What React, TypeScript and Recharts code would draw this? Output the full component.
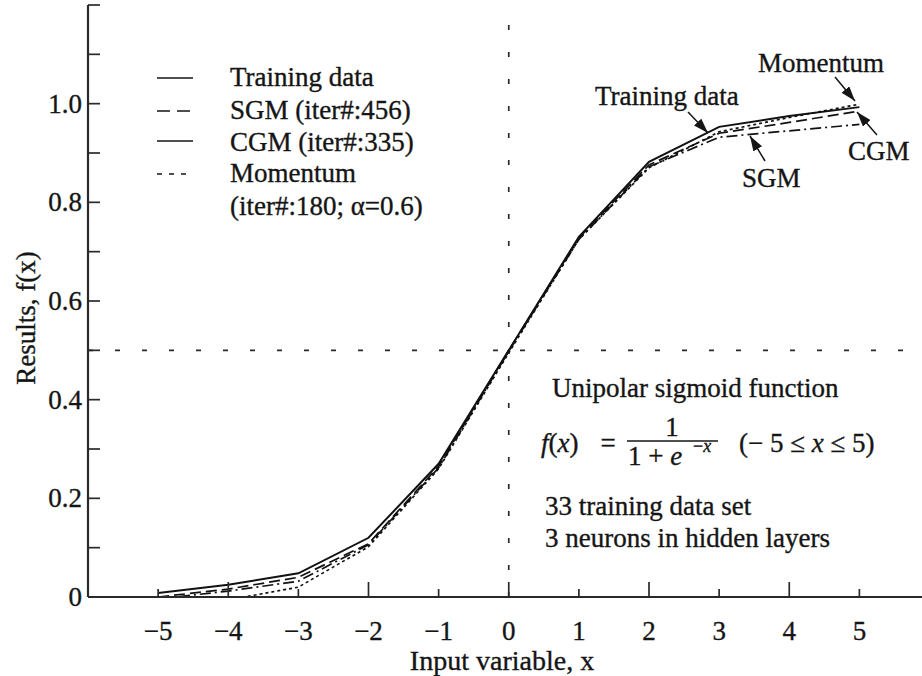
import { LineChart, Line, XAxis, YAxis, ReferenceLine } from 'recharts'

// ── Data ──────────────────────────────────────────────────────────────────────

const X_VALUES = [-5, -4, -3, -2, -1, 0, 1, 2, 3, 4, 5]
const TRAINING = [0.008, 0.025, 0.048, 0.12, 0.27, 0.5, 0.73, 0.882, 0.953, 0.975, 0.993]
const SGM = [-0.004, 0.012, 0.032, 0.106, 0.262, 0.498, 0.725, 0.872, 0.932, 0.945, 0.958]
const CGM = [0.0, 0.016, 0.04, 0.108, 0.265, 0.5, 0.728, 0.876, 0.94, 0.962, 0.985]
const MOMENTUM = [-0.012, -0.006, 0.02, 0.102, 0.26, 0.495, 0.725, 0.87, 0.943, 0.972, 0.999]

const X_TICKS = [-5, -4, -3, -2, -1, 0, 1, 2, 3, 4, 5]
const Y_TICKS = [0, 0.1, 0.2, 0.3, 0.4, 0.5, 0.6, 0.7, 0.8, 0.9, 1.0, 1.1, 1.2]
const Y_LABELED = [0, 0.2, 0.4, 0.6, 0.8, 1.0]

const LEGEND_ENTRIES = [
  { label: 'Training data', dash: undefined },
  { label: 'SGM (iter#:456)', dash: '13 7' },
  { label: 'CGM (iter#:335)', dash: undefined },
  { label: 'Momentum', dash: '5 7' },
]

const chartData = X_VALUES.map((x, i) => ({
  x,
  training: TRAINING[i],
  sgm: SGM[i],
  cgm: CGM[i],
  momentum: MOMENTUM[i],
}))

// ── Style ─────────────────────────────────────────────────────────────────────

const SERIF = "'Liberation Serif', 'Times New Roman', 'DejaVu Serif', serif"
const INK = '#151515'
const FRAME = '#2a2a2a'
const FS = 27
// a hairline outline thickens the glyphs a touch
const TEXT_WEIGHT = { stroke: INK, strokeWidth: 0.35 }

const W = 940
const H = 676

const fmtX = (v: number) => (v < 0 ? `\u2212${Math.abs(v)}` : `${v}`)
const fmtY = (v: number) => (v === 0 ? '0' : v.toFixed(1))
const isEven = (v: number) => Math.abs(v) % 2 === 0

// ── Tick renderers (inward-pointing ticks on all four sides) ──────────────────

function BottomTick({ x, y, payload }: any) {
  const v = payload.value
  return (
    <g>
      <line x1={x} x2={x} y1={y} y2={y - (isEven(v) ? 15 : 8)} stroke={FRAME} strokeWidth={1.7} />
      <text x={x} y={y + 43} textAnchor="middle" fontSize={FS} fontFamily={SERIF} fill={INK} {...TEXT_WEIGHT}>
        {fmtX(v)}
      </text>
    </g>
  )
}

function TopTick({ x, y, payload }: any) {
  const v = payload.value
  return <line x1={x} x2={x} y1={y} y2={y + (isEven(v) ? 15 : 8)} stroke={FRAME} strokeWidth={1.7} />
}

function LeftTick({ x, y, payload }: any) {
  const v = payload.value
  const labeled = Y_LABELED.includes(v)
  return (
    <g>
      <line x1={x} x2={x + 12} y1={y} y2={y} stroke={FRAME} strokeWidth={1.7} />
      {labeled && (
        <text x={x - 6} y={y + 9} textAnchor="end" fontSize={FS} fontFamily={SERIF} fill={INK} {...TEXT_WEIGHT}>
          {fmtY(v)}
        </text>
      )}
    </g>
  )
}

function RightTick({ x, y, payload }: any) {
  const v = payload.value
  const major = Y_LABELED.includes(v)
  return <line x1={x} x2={x - (major ? 15 : 8)} y1={y} y2={y} stroke={FRAME} strokeWidth={1.7} />
}

// ── Annotations, legend and formula ───────────────────────────────────────────

function Arrow({ from, to }: { from: [number, number]; to: [number, number] }) {
  return (
    <line
      x1={from[0]} y1={from[1]} x2={to[0]} y2={to[1]}
      stroke={INK} strokeWidth={1.5} markerEnd="url(#arrowhead)"
    />
  )
}

function Overlay() {
  return (
    <svg
      width={922}
      height={676}
      style={{ position: 'absolute', left: 0, top: 0, pointerEvents: 'none' }}
      fontFamily={SERIF}
      fill={INK}
      stroke={INK}
      strokeWidth={0.35}
    >
      <defs>
        <marker
          id="arrowhead" viewBox="0 0 10 10" refX="10" refY="5"
          markerWidth="15" markerHeight="10" markerUnits="userSpaceOnUse"
          orient="auto" preserveAspectRatio="none"
        >
          <path d="M0,0 L10,5 L0,10 z" fill={INK} stroke="none" />
        </marker>
      </defs>

      {/* legend */}
      {LEGEND_ENTRIES.map((e, i) => {
        const rowY = [78, 111, 141, 174][i]
        const baseY = [86, 119, 151, 182][i]
        return (
          <g key={e.label}>
            <line x1={157} x2={193} y1={rowY} y2={rowY} stroke={INK} strokeWidth={1.7} strokeDasharray={e.dash} />
            <text x={230} y={baseY} fontSize={FS}>{e.label}</text>
          </g>
        )
      })}
      <text x={230} y={215} fontSize={FS}>(iter#:180; α=0.6)</text>

      {/* curve labels */}
      <text x={758} y={72} fontSize={FS}>Momentum</text>
      <Arrow from={[835, 77]} to={[855, 101]} />
      <text x={595} y={105} fontSize={FS}>Training data</text>
      <Arrow from={[688, 112]} to={[708, 133]} />
      <text x={742} y={187} fontSize={FS}>SGM</text>
      <Arrow from={[765, 161]} to={[750, 136]} />
      <text x={848} y={160} fontSize={FS}>CGM</text>
      <Arrow from={[877, 135]} to={[857, 112]} />

      {/* function description */}
      <text x={552} y={397} fontSize={FS}>Unipolar sigmoid function</text>
      <text x={541} y={452} fontSize={FS}>
        <tspan fontStyle="italic">f</tspan>(<tspan fontStyle="italic">x</tspan>)
      </text>
      <text x={608} y={452} fontSize={FS} textAnchor="middle">=</text>
      <text x={672} y={436} fontSize={FS} textAnchor="middle">1</text>
      <line x1={627} x2={718} y1={441} y2={441} stroke={INK} strokeWidth={1.5} />
      <text x={628} y={465} fontSize={FS}>
        1 + <tspan fontStyle="italic">e</tspan>
      </text>
      <text x={693} y={452} fontSize={18}>
        {'\u2212'}<tspan fontStyle="italic">x</tspan>
      </text>
      <text x={739} y={452} fontSize={FS}>
        ({'\u2212'} 5 ≤ <tspan fontStyle="italic">x</tspan> ≤ 5)
      </text>
      <text x={545} y={515} fontSize={FS}>33 training data set</text>
      <text x={545} y={547} fontSize={FS}>3 neurons in hidden layers</text>

      {/* axis titles */}
      <text x={502} y={670} fontSize={28} textAnchor="middle">Input variable, x</text>
      <text x={0} y={0} fontSize={FS} textAnchor="middle" transform="translate(35 318) rotate(-90)">
        Results, f(x)
      </text>
    </svg>
  )
}

// ── Chart ─────────────────────────────────────────────────────────────────────

export default function App() {
  return (
    <div
      style={{
        position: 'absolute', left: 0, top: 0, width: 922, height: 676,
        overflow: 'hidden', background: '#fff',
      }}
    >
      <LineChart width={W} height={H} data={chartData} margin={{ top: 5, right: 0, left: 0, bottom: 0 }}>
        <XAxis
          xAxisId="b" dataKey="x" type="number" domain={[-6, 5.95]} ticks={X_TICKS} interval={0}
          height={79} tickSize={0} tickMargin={0} tickLine={false}
          axisLine={{ stroke: FRAME, strokeWidth: 2.2 }} tick={BottomTick}
        />
        <XAxis
          xAxisId="t" orientation="top" dataKey="x" type="number" domain={[-6, 5.95]} ticks={X_TICKS} interval={0}
          height={0} tickSize={0} tickMargin={0} tickLine={false}
          axisLine={{ stroke: FRAME, strokeWidth: 2.2 }} tick={TopTick}
        />
        <YAxis
          yAxisId="l" type="number" domain={[0, 1.2]} ticks={Y_TICKS} interval={0} allowDataOverflow
          width={88} tickSize={0} tickMargin={0} tickLine={false}
          axisLine={{ stroke: FRAME, strokeWidth: 2.2 }} tick={LeftTick}
        />
        <YAxis
          yAxisId="r" orientation="right" type="number" domain={[0, 1.2]} ticks={Y_TICKS} interval={0}
          width={14} tickSize={0} tickMargin={0} tickLine={false}
          axisLine={{ stroke: FRAME, strokeWidth: 2.2 }} tick={RightTick}
        />

        <ReferenceLine xAxisId="b" yAxisId="l" x={0} stroke={FRAME} strokeWidth={1.7} strokeDasharray="5 22" />
        <ReferenceLine xAxisId="b" yAxisId="l" y={0.5} stroke={FRAME} strokeWidth={1.7} strokeDasharray="5 22" />

        <Line xAxisId="b" yAxisId="l" dataKey="training" type="linear" stroke="#111" strokeWidth={2}
          dot={false} isAnimationActive={false} />
        <Line xAxisId="b" yAxisId="l" dataKey="cgm" type="linear" stroke="#111" strokeWidth={1.7}
          strokeDasharray="11 5" dot={false} isAnimationActive={false} />
        <Line xAxisId="b" yAxisId="l" dataKey="sgm" type="linear" stroke="#111" strokeWidth={1.7}
          strokeDasharray="11 4 2 4" dot={false} isAnimationActive={false} />
        <Line xAxisId="b" yAxisId="l" dataKey="momentum" type="linear" stroke="#111" strokeWidth={1.7}
          strokeDasharray="3 3" dot={false} isAnimationActive={false} />
      </LineChart>
      <Overlay />
    </div>
  )
}
